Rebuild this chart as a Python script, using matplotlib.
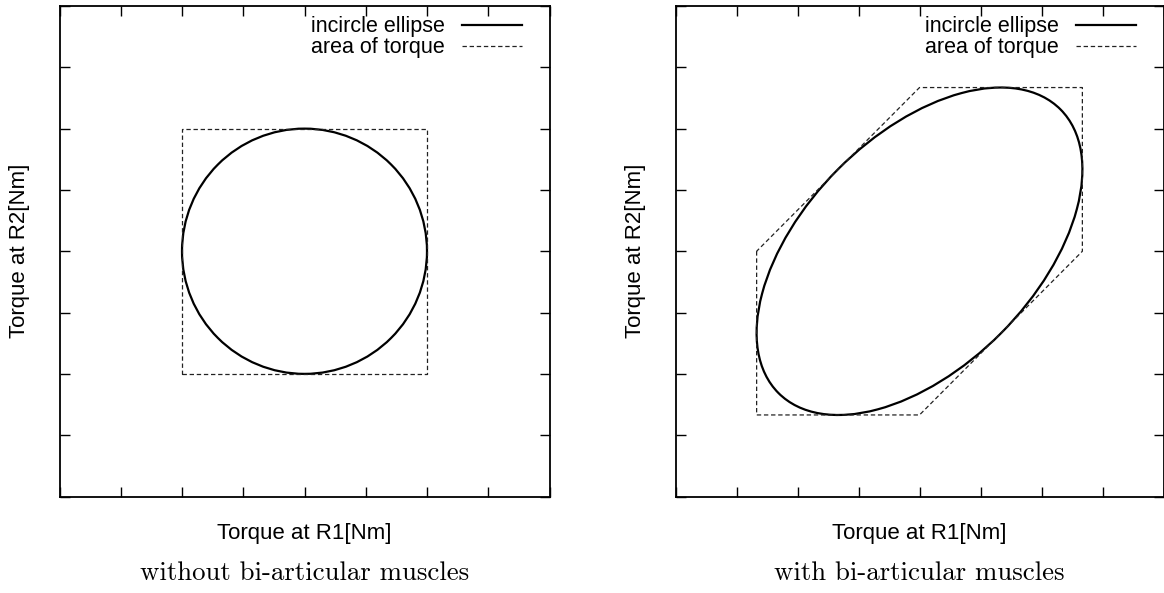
import matplotlib
matplotlib.use("Agg")
import matplotlib.pyplot as plt
from matplotlib.patches import Ellipse
from matplotlib.lines import Line2D

plt.rcParams["font.family"] = ["Liberation Sans", "DejaVu Sans"]

W, H = 1164, 593

# Left panel: square torque area with its inscribed circle
square_x = [-2, 2, 2, -2, -2]
square_y = [-2, -2, 2, 2, -2]
circle_center = (0.0, 0.0)
circle_radius = 2.0

# Right panel: hexagonal torque area with its inscribed ellipse
hex_x = [-2.67, -2.67, 0.0, 2.67, 2.67, 0.0, -2.67]
hex_y = [0.0, -2.67, -2.67, 0.0, 2.67, 2.67, 0.0]
ellipse_center = (0.0, 0.0)
ellipse_semi_major = 3.27
ellipse_semi_minor = 1.89
ellipse_angle = 45.0

tick_values = [-4, -3, -2, -1, 0, 1, 2, 3, 4]
axis_limits = (-4, 4)

xlabel = "Torque at R1[Nm]"
ylabel = "Torque at R2[Nm]"
legend_labels = ["incircle ellipse", "area of torque"]
subtitles = ["without bi-articular muscles", "with bi-articular muscles"]

fig = plt.figure(figsize=(W / 100, H / 100), dpi=100)


def px_axes(x0, x1, y0, y1):
    return fig.add_axes([x0 / W, 1 - y1 / H, (x1 - x0) / W, (y1 - y0) / H])


ax_l = px_axes(59.5, 549.5, 6, 496.5)
ax_r = px_axes(675.5, 1163.5, 6, 496.5)

FS_LEG = 15.5
FS_LAB = 16
solid_kw = dict(color="black", lw=1.6)
dash_kw = dict(color="#222222", lw=0.9, dashes=(3.5, 2.2))


def style(ax):
    ax.set_xlim(*axis_limits)
    ax.set_ylim(*axis_limits)
    ax.set_xticks(tick_values)
    ax.set_yticks(tick_values)
    ax.tick_params(direction="in", length=7, width=1, top=True, right=True,
                   labelbottom=False, labelleft=False)
    for s in ax.spines.values():
        s.set_linewidth(1.3)
    ax.set_xlabel(xlabel, fontsize=FS_LAB, labelpad=19)
    ax.set_ylabel(ylabel, fontsize=FS_LAB, labelpad=21)


# Left panel
circ = Ellipse(circle_center, 2 * circle_radius, 2 * circle_radius,
               fill=False, **solid_kw)
ax_l.add_patch(circ)
ax_l.plot(square_x, square_y, **dash_kw)

# Right panel
ell = Ellipse(ellipse_center, 2 * ellipse_semi_major, 2 * ellipse_semi_minor,
              angle=ellipse_angle, fill=False, **solid_kw)
ax_r.add_patch(ell)
ax_r.plot(hex_x, hex_y, **dash_kw)

for ax in (ax_l, ax_r):
    style(ax)
    handles = [Line2D([], [], **solid_kw), Line2D([], [], **dash_kw)]
    width_px = ax.get_position().width * W
    ax.legend(handles, legend_labels, loc="upper right", frameon=False,
              markerfirst=False, fontsize=FS_LEG, handlelength=2.8,
              handletextpad=0.8, labelspacing=0.0, borderaxespad=0.3,
              borderpad=0.4,
              bbox_to_anchor=(1 - 12 / width_px, 1 + 5 / 490.5))

fig.text(304.5 / W, 1 - 573 / H, subtitles[0], fontsize=19.3, family="cmr10",
         ha="center", va="center")
fig.text(919.5 / W, 1 - 573 / H, subtitles[1], fontsize=19.3, family="cmr10",
         ha="center", va="center")

fig.savefig("out.png", dpi=100)
